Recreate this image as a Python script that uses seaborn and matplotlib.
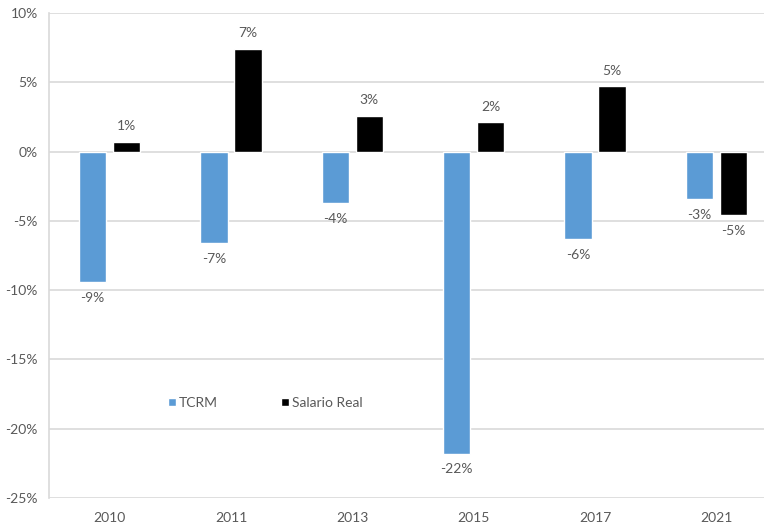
import matplotlib
matplotlib.use("Agg")
import matplotlib.pyplot as plt
import seaborn as sns
import pandas as pd

# Annual variation (%) by year
years = ["2010", "2011", "2013", "2015", "2017", "2021"]
tcrm = [-9.4, -6.6, -3.7, -21.8, -6.3, -3.45]
salario_real = [0.7, 7.4, 2.6, 2.1, 4.7, -4.6]
series = ["TCRM", "Salario Real"]
y_ticks = [-25, -20, -15, -10, -5, 0, 5, 10]

df = pd.DataFrame({
    "year": years * 2,
    "value": tcrm + salario_real,
    "series": [series[0]] * len(years) + [series[1]] * len(years),
})

sns.set_theme(style="white")
plt.rcParams["font.family"] = ["Lato", "DejaVu Sans"]

text_color = "#595959"
grid_color = "#D9D9D9"

fig = plt.figure(figsize=(7.64, 5.25), dpi=100)
ax = fig.add_axes([49 / 764, 1 - 498 / 525, 728 / 764, 485 / 525])

sns.barplot(
    data=df, x="year", y="value", hue="series", hue_order=series,
    order=years, palette=["#5B9BD5", "#000000"], width=0.562, gap=0.2,
    saturation=1, ax=ax, zorder=3,
)

for cont in ax.containers:
    ax.bar_label(cont, fmt=lambda v: f"{v:.0f}%", padding=7,
                 fontsize=10, color=text_color)

ax.set_ylim(-25, 10)
ax.set_yticks(y_ticks)
ax.set_yticklabels([f"{t}%" for t in y_ticks])
ax.yaxis.grid(True, color=grid_color, linewidth=1.2, zorder=0)
ax.set_axisbelow(True)
ax.set_xlabel("")
ax.set_ylabel("")
ax.tick_params(axis="both", length=0, labelsize=10, labelcolor=text_color)
ax.tick_params(axis="y", pad=8)
ax.tick_params(axis="x", pad=10)

for side in ["top", "right", "bottom"]:
    ax.spines[side].set_visible(False)
ax.spines["left"].set_color(grid_color)
ax.spines["left"].set_linewidth(1.2)

leg = ax.legend(
    loc="center", bbox_to_anchor=(0.297, 0.196), ncol=2, frameon=False,
    handlelength=0.6, handleheight=0.6, handletextpad=0.2,
    columnspacing=4.5, fontsize=10,
)
for t in leg.get_texts():
    t.set_color(text_color)

fig.savefig("out.png", dpi=100)
